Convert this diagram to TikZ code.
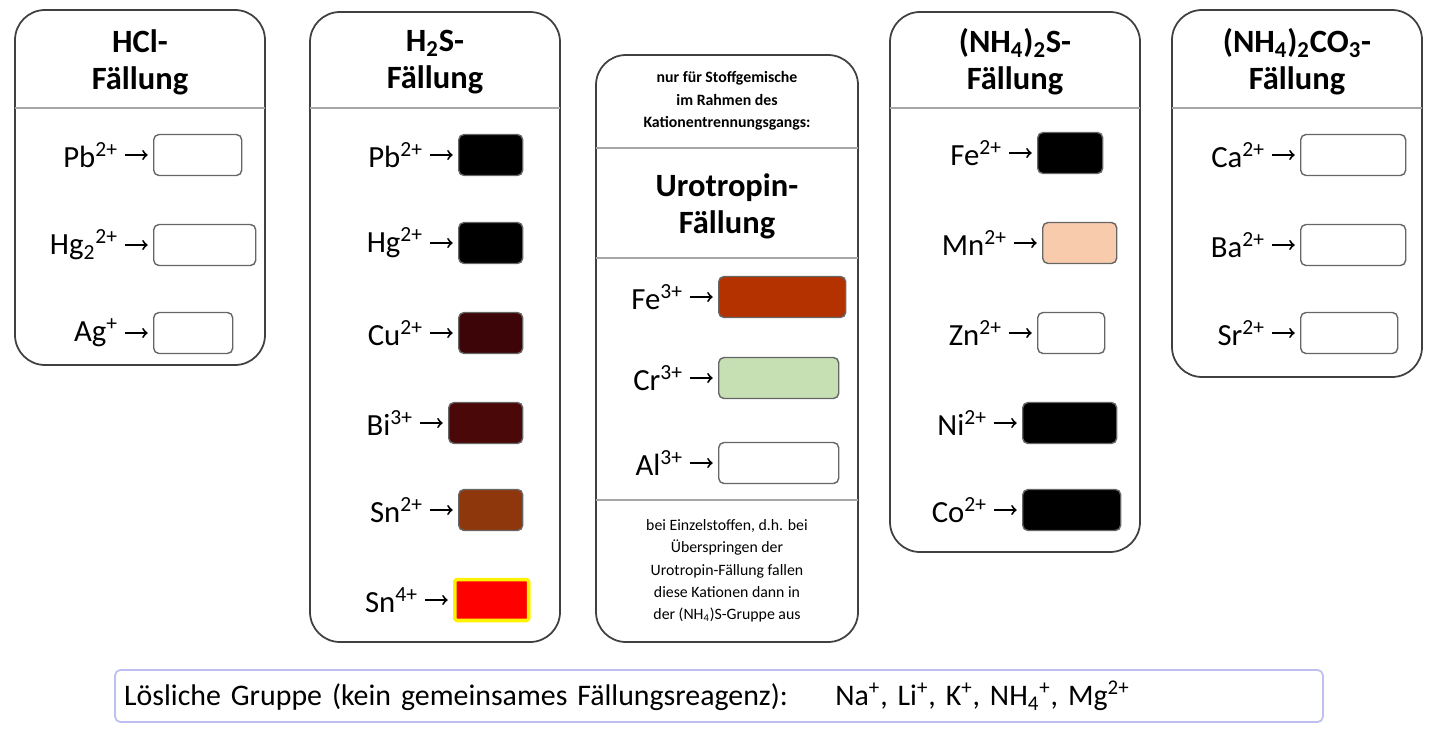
\documentclass[tikz,border=0pt]{standalone}
\usepackage{fontspec}
\setmainfont{Carlito}
\begin{document}
\begin{tikzpicture}[
    x=0.02cm, y=-0.02cm,
    line join=round,
    panel/.style={draw=black!75, line width=1pt, rounded corners=0.6cm},
    sep/.style={draw=black!35, line width=0.8pt},
    title/.style={font=\bfseries\fontsize{18.5}{21}\selectfont, align=center},
    ion/.style={font=\fontsize{17.5}{20}\selectfont, anchor=east, inner sep=1pt},
    slot/.style={draw=black!60, rounded corners=3pt, line width=0.8pt, anchor=west, minimum height=0.82cm, inner sep=0pt},
    small/.style={font=\fontsize{9}{12.7}\selectfont, align=center},
    arr/.style={->, line width=1.1pt, >=to}
  ]
  \useasboundingbox (0,0) rectangle (1440,737);
  % panels
  \draw[panel] (15,10) rectangle (265,365);
  \draw[panel] (310,12) rectangle (560,642);
  \draw[panel] (596,55) rectangle (858,642);
  \draw[panel] (890,12) rectangle (1140,552);
  \draw[panel] (1172,10) rectangle (1422,377);
  \foreach \xa/\xb in {15/265,310/560,890/1140,1172/1422}
    \draw[sep] (\xa,108) -- (\xb,108);
  \foreach \yy in {148,258,500}
    \draw[sep] (596,\yy) -- (858,\yy);
  % titles
  \node[title] (thcl) at (140,62) {HCl-\\Fällung};
  \node[title] (th2s) at (435,62) {H\textsubscript{2}S-\\Fällung};
  \node[title] (turo) at (727,206) {Urotropin-\\Fällung};
  \node[title] (tnhs) at (1015,62) {(NH\textsubscript{4})\textsubscript{2}S-\\Fällung};
  \node[title] (tnhc) at (1297,62) {(NH\textsubscript{4})\textsubscript{2}CO\textsubscript{3}-\\Fällung};
  \node[small, font=\bfseries\fontsize{9}{12.7}\selectfont] (note1) at (727,101)
    {nur für Stoffgemische\\im Rahmen des\\Kationentrennungsgangs:};
  \node[small] (note2) at (727,571)
    {bei Einzelstoffen, d.h. bei\\Überspringen der\\Urotropin-Fällung fallen\\diese Kationen dann in\\der (NH\textsubscript{4})S-Gruppe aus};
  % ions and precipitate colours
  \definecolor{cus}{HTML}{3D0507}
  \definecolor{bis}{HTML}{4A0808}
  \definecolor{sns}{HTML}{8E360C}
  \definecolor{feo}{HTML}{B33200}
  \definecolor{cro}{HTML}{C6E0B4}
  \definecolor{mns}{HTML}{F8CBAD}
  \foreach \n/\t/\x/\y/\w/\f [count=\i] in {
      Pb/Pb\textsuperscript{2+}/153/155/88/white,
      Hg/Hg\textsubscript{2}\textsuperscript{2+}/153/245/102/white,
      Ag/Ag\textsuperscript{+}/153/333/79/white,
      PbS/Pb\textsuperscript{2+}/458/155/64/black,
      HgS/Hg\textsuperscript{2+}/458/243/64/black,
      CuS/Cu\textsuperscript{2+}/458/333/64/cus,
      BiS/Bi\textsuperscript{3+}/448/423/74/bis,
      SnS/Sn\textsuperscript{2+}/458/510/64/sns,
      FeO/Fe\textsuperscript{3+}/718/297/127/feo,
      CrO/Cr\textsuperscript{3+}/718/378/120/cro,
      AlO/Al\textsuperscript{3+}/718/463/120/white,
      FeS/Fe\textsuperscript{2+}/1037/153/65/black,
      MnS/Mn\textsuperscript{2+}/1042/243/74/mns,
      ZnS/Zn\textsuperscript{2+}/1037/333/67/white,
      NiS/Ni\textsuperscript{2+}/1022/423/94/black,
      CoS/Co\textsuperscript{2+}/1022/510/98/black,
      Ca/Ca\textsuperscript{2+}/1300/155/105/white,
      Ba/Ba\textsuperscript{2+}/1300/245/105/white,
      Sr/Sr\textsuperscript{2+}/1300/333/97/white}
  {
    \node[slot, fill=\f, minimum width=\w*0.02cm] (s\n) at (\x,\y) {};
    \node[ion] (l\n) at (\x-33,\y) {\t};
    \draw[arr] ([xshift=3pt]l\n.east |- s\n.west) -- ([xshift=-3pt]s\n.west);
  }
  % Sn4+ with yellow rim
  \node[slot, fill=red, draw=yellow, line width=2pt, rounded corners=1pt, minimum width=1.48cm] (sSnIV) at (453,600) {};
  \node[ion] (lSnIV) at (420,600) {Sn\textsuperscript{4+}};
  \draw[arr] ([xshift=3pt]lSnIV.east |- sSnIV.west) -- ([xshift=-3pt]sSnIV.west);
  % soluble group
  \node[draw=black!25!blue!25, line width=1pt, rounded corners=3pt, minimum width=24.16cm, minimum height=1.04cm,
    text width=23.8cm, align=left, font=\fontsize{17}{20}\selectfont] (sol) at (719,696)
    {Lösliche Gruppe (kein gemeinsames Fällungsreagenz):\hspace{0.95cm}Na\textsuperscript{+}, Li\textsuperscript{+}, K\textsuperscript{+}, NH\textsubscript{4}\textsuperscript{+}, Mg\textsuperscript{2+}};
\end{tikzpicture}
\end{document}
